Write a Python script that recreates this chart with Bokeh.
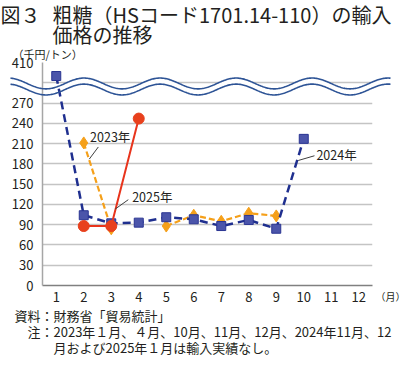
import numpy as np
from bokeh.plotting import figure
from bokeh.models import FixedTicker, Range1d
from bokeh.core.properties import value
from bokeh.embed import file_html
from bokeh.resources import INLINE

# ---------------- data ----------------
months = list(range(1, 13))
x_tick_labels = [str(m) for m in months]
nan = float("nan")
y2023 = [nan, 211, 84, nan, 88, 104, 95, 107, 103, nan, nan, nan]
y2024 = [390, 104, 92, 93, 101, 98, 88, 97, 84, 217, nan, nan]
y2025 = [nan, 88, 88, 247, nan, nan, nan, nan, nan, nan, nan, nan]
y_tick_values = [0, 30, 60, 90, 120, 150, 180, 210, 240, 270, 300, 330]
y_tick_labels = ["0", "30", "60", "90", "120", "150", "180", "210", "240", "270", "", "410"]
series_names = ["2023年", "2024年", "2025年"]

# values above the axis break (wavy lines) are drawn shifted down
BREAK_AT = 300
BREAK_SHIFT = 80


def to_axis(vals):
    out = []
    for v in vals:
        if v == v and v > BREAK_AT:
            out.append(v - BREAK_SHIFT)
        else:
            out.append(v)
    return out


# ---------------- layout ----------------
W, H = 404, 361
FL, FR, FT, FB = 42, 372, 62, 285
X0, X1 = 0.5, 12.5
Y0, Y1 = 0, 330
FONT = "Noto Sans CJK JP"


def cx2x(cx):
    return X0 + (cx - FL) / (FR - FL) * (X1 - X0)


def cy2y(cy):
    return Y0 + (FB - cy) / (FB - FT) * (Y1 - Y0)


p = figure(width=W, height=H, output_backend="svg", toolbar_location=None,
           x_range=Range1d(X0, X1), y_range=Range1d(Y0, Y1),
           min_border_left=FL, min_border_right=W - FR,
           min_border_top=FT, min_border_bottom=H - FB)
p.outline_line_color = None
p.background_fill_color = "white"
p.border_fill_color = "white"

# axes
p.xaxis.ticker = FixedTicker(ticks=months)
p.xaxis.major_label_overrides = {m: t for m, t in zip(months, x_tick_labels)}
p.yaxis.ticker = FixedTicker(ticks=y_tick_values)
p.yaxis.major_label_overrides = {v: t for v, t in zip(y_tick_values, y_tick_labels)}
for ax in (p.xaxis, p.yaxis):
    ax.major_tick_in = 0
    ax.major_tick_out = 0
    ax.minor_tick_in = 0
    ax.minor_tick_out = 0
    ax.major_label_text_font = FONT
    ax.major_label_text_font_size = "13px"
    ax.major_label_text_color = "#231f20"
    ax.axis_line_width = 1.5
p.xaxis.axis_line_color = "#808080"
p.yaxis.axis_line_color = "#a6a6a6"
p.xaxis.major_label_standoff = 6
p.yaxis.major_label_standoff = 9
p.xgrid.grid_line_color = None
p.ygrid.grid_line_color = "#c4c4c4"
p.ygrid.grid_line_width = 1.5

# wavy break lines
wx = np.linspace(cx2x(10), cx2x(390), 400)
wl = 2.764
phase = 2.01
amp = 8
upper = 299 + amp * np.cos(2 * np.pi * (wx - phase) / wl)
lower = 290 + amp * np.cos(2 * np.pi * (wx - phase) / wl)
p.varea(x=wx, y1=lower, y2=upper, fill_color="white")
p.line(wx, upper, line_color="#2e5496", line_width=1.6, level="overlay")
p.line(wx, lower, line_color="#2e5496", line_width=1.6, level="overlay")

# 2023
p.line(months, y2023, line_color="#f5a01a", line_width=2.2, line_dash="6 3")
p.scatter(months, y2023, marker="diamond", size=12, fill_color="#f5a01a",
          line_color="#f5a01a")
# 2024
y24 = to_axis(y2024)
p.line(months, y24, line_color="#1f2f8f", line_width=2.5, line_dash="8 5")
p.scatter(months, y24, marker="square", size=9, fill_color="#4b55aa",
          line_color="#2a3592", line_width=1)
# 2025
p.line(months, y2025, line_color="#e8341c", line_width=2)
p.scatter(months, y2025, marker="circle", size=11, fill_color="#e8401c",
          line_color="#e8401c")

# series labels with leader lines
p.segment(x0=[2.53, 3.62, 10.39], y0=[205, 127, 192],
          x1=[2.20, 3.14, 9.80], y1=[187, 113, 185],
          line_color="#404040", line_width=1)
p.text(x=[2.23, 10.46, 3.76], y=[220, 194, 132], text=series_names,
       text_align="left", text_baseline="middle", text_font=value(FONT),
       text_font_size="12.5px", text_color="#231f20")


def lab(text, cx, cy, size, align="left"):
    p.text(x=[cx2x(cx)], y=[cy2y(cy)], text=[text], text_align=align,
           text_baseline="middle", text_font=value(FONT),
           text_font_size=f"{size}px", text_color="#231f20", level="overlay")


lab("図３", 0, 14, 20)
lab("粗糖（HSコード1701.14-110）の輸入", 52, 14, 20)
lab("価格の推移", 52, 34, 20)
lab("（千円/トン）", 12, 53, 11)
lab("（月）", 375, 296, 10)
lab("資料：財務省「貿易統計」", 14, 315, 13)
lab("注：2023年１月、４月、10月、11月、12月、2024年11月、12", 27, 331, 13)
lab("月および2025年１月は輸入実績なし。", 53, 347, 13)

open("out.html", "w").write(file_html(p, INLINE))
